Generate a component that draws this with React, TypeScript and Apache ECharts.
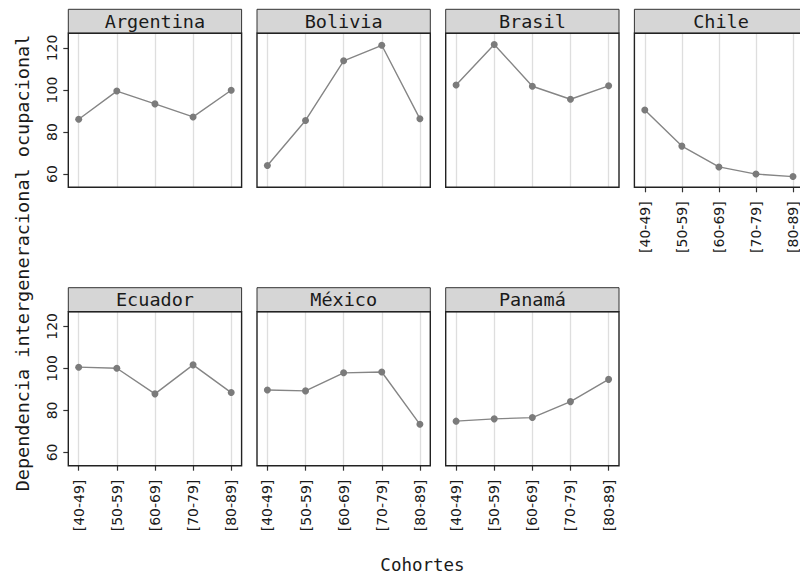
import React, { useEffect, useRef } from "react";
import * as echarts from "echarts";

const categories = ["[40-49]", "[50-59]", "[60-69]", "[70-79]", "[80-89]"];
const countries = ["Argentina", "Bolivia", "Brasil", "Chile", "Ecuador", "México", "Panamá"];
const argentina = [86.1, 99.5, 93.4, 87.2, 99.9];
const bolivia = [64.1, 85.5, 113.9, 121.3, 86.3];
const brasil = [102.4, 121.7, 101.8, 95.6, 102.0];
const chile = [90.5, 73.3, 63.4, 60.0, 58.8];
const ecuador = [100.6, 100.1, 87.9, 101.7, 88.5];
const mexico = [89.7, 89.3, 97.9, 98.3, 73.4];
const panama = [74.9, 76.0, 76.6, 84.2, 94.8];
const seriesValues = [argentina, bolivia, brasil, chile, ecuador, mexico, panama];
const yTicks = [60, 80, 100, 120];
const yTitle = "Dependencia intergeneracional ocupacional";
const xTitle = "Cohortes";

export default function App() {
  const ref = useRef<HTMLDivElement>(null);
  useEffect(() => {
    if (!ref.current) return;
    const chart = echarts.init(ref.current, undefined, { renderer: "svg" });
    const colLeft = [68.3, 257, 445.7, 634.4];
    const panelW = 173.3;
    const plotTops = [33.3, 311.7];
    const plotH = 154;
    const stripH = 24;
    const inset = 10.4;
    const mono = "DejaVu Sans Mono";
    const sans = "DejaVu Sans";

    const grids: any[] = [];
    const xAxes: any[] = [];
    const yAxes: any[] = [];
    const series: any[] = [];
    const graphics: any[] = [];

    countries.forEach((name, i) => {
      const row = i < 4 ? 0 : 1;
      const col = i < 4 ? i : i - 4;
      const left = colLeft[col];
      const top = plotTops[row];
      const showX = row === 1 || i === 3;
      const showY = col === 0;
      grids.push({ left: left + inset, top, width: panelW - 2 * inset, height: plotH });
      xAxes.push({
        type: "category",
        gridIndex: i,
        data: categories,
        boundaryGap: false,
        axisLine: { show: false },
        axisTick: { show: showX, length: 5, interval: 0, lineStyle: { color: "#333", width: 1.2 } },
        axisLabel: {
          show: showX,
          interval: 0,
          rotate: 90,
          margin: 14,
          fontSize: 14,
          fontFamily: sans,
          color: "#1a1a1a",
        },
        splitLine: { show: true, interval: 0, lineStyle: { color: "#dedede", width: 1.3 } },
      });
      yAxes.push({
        type: "value",
        gridIndex: i,
        min: 53.7,
        max: 127,
        offset: inset,
        axisLine: { show: false },
        axisTick: { show: showY, length: 5, customValues: yTicks, lineStyle: { color: "#333", width: 1.2 } },
        axisLabel: {
          show: showY,
          customValues: yTicks,
          rotate: 90,
          margin: 9,
          fontSize: 14,
          fontFamily: sans,
          color: "#1a1a1a",
        },
        splitLine: { show: false },
      });
      series.push({
        type: "line",
        xAxisIndex: i,
        yAxisIndex: i,
        data: seriesValues[i],
        symbol: "circle",
        symbolSize: 7,
        itemStyle: { color: "#7b7b7b" },
        lineStyle: { color: "#858585", width: 1.4 },
        z: 3,
      });
      graphics.push({
        type: "rect",
        shape: { x: left, y: top - stripH, width: panelW, height: stripH },
        style: { fill: "#d6d6d6", stroke: "#333", lineWidth: 1 },
        z: 5,
      });
      graphics.push({
        type: "text",
        x: left + panelW / 2,
        y: top - stripH / 2,
        style: {
          text: name,
          fontFamily: mono,
          fontSize: 18.5,
          fill: "#1a1a1a",
          textAlign: "center",
          textVerticalAlign: "middle",
        },
        z: 6,
      });
      graphics.push({
        type: "rect",
        shape: { x: left, y: top, width: panelW, height: plotH },
        style: { fill: "none", stroke: "#222", lineWidth: 1.4 },
        z: 10,
      });
    });

    graphics.push({
      type: "text",
      x: 22,
      y: 263,
      rotation: Math.PI / 2,
      style: {
        text: yTitle,
        fontFamily: mono,
        fontSize: 18.5,
        fill: "#1a1a1a",
        textAlign: "center",
        textVerticalAlign: "middle",
      },
    });
    graphics.push({
      type: "text",
      x: 422.5,
      y: 565,
      style: {
        text: xTitle,
        fontFamily: mono,
        fontSize: 17.5,
        fill: "#1a1a1a",
        textAlign: "center",
        textVerticalAlign: "middle",
      },
    });

    chart.setOption({
      animation: false,
      backgroundColor: "#ffffff",
      grid: grids,
      xAxis: xAxes,
      yAxis: yAxes,
      series,
      graphic: graphics,
    });
    return () => chart.dispose();
  }, []);
  return (
    <div
      ref={ref}
      style={{ position: "fixed", left: 0, top: 0, width: 800, height: 578 }}
    />
  );
}
